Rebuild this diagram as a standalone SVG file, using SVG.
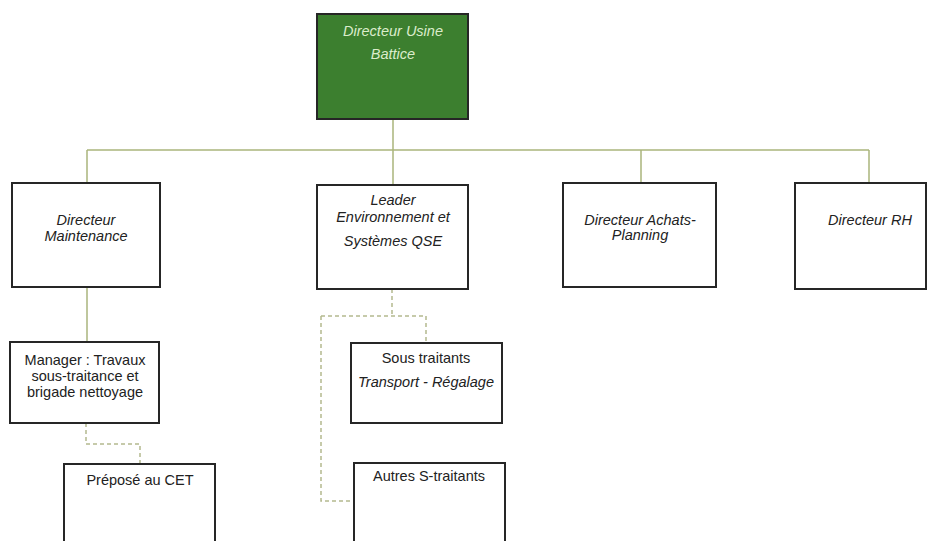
<svg xmlns="http://www.w3.org/2000/svg" width="933" height="541" viewBox="0 0 933 541">
<style>
.box{fill:#fff;stroke:#262626;stroke-width:2}
.top{fill:#3c7f2f;stroke:#262626;stroke-width:2}
.t{font-family:"Liberation Sans",Arial,sans-serif;font-size:14.5px;fill:#222;text-anchor:middle}
.i{font-style:italic}
.w{fill:#dbeccb}
.ln{fill:none;stroke:#aab57c;stroke-width:1.5}
.dl{fill:none;stroke:#b4b98e;stroke-width:1.5;stroke-dasharray:4 3}
</style>
<rect width="933" height="541" fill="#fff"/>
<g id="connectors">
<path class="ln" d="M393 119V150M87 150H869M87 150V183M393 150V185M641 150V183M869 150V183"/>
<path class="ln" d="M87 287V342"/>
<path class="dl" d="M86 423V444H140V464"/>
<path class="dl" d="M392 289V316M321 316H426V343M321 316V501H352"/>
</g>
<g id="n-directeur-usine">
<rect class="top" x="317" y="14" width="151" height="105"/>
<text class="t i w" x="393" y="36">Directeur Usine</text>
<text class="t i w" x="393" y="59">Battice</text>
</g>
<g id="n-maintenance">
<rect class="box" x="12" y="183" width="148" height="104"/>
<text class="t i" x="86" y="225">Directeur</text>
<text class="t i" x="86" y="241">Maintenance</text>
</g>
<g id="n-leader">
<rect class="box" x="317" y="185" width="151" height="104"/>
<text class="t i" x="393" y="205">Leader</text>
<text class="t i" x="393" y="222">Environnement et</text>
<text class="t i" x="393" y="246">Systèmes QSE</text>
</g>
<g id="n-achats">
<rect class="box" x="563" y="183" width="153" height="104"/>
<text class="t i" x="640" y="225">Directeur Achats-</text>
<text class="t i" x="640" y="240">Planning</text>
</g>
<g id="n-rh">
<rect class="box" x="795" y="183" width="131" height="106"/>
<text class="t i" x="870" y="225">Directeur RH</text>
</g>
<g id="n-manager">
<rect class="box" x="10" y="342" width="149" height="81"/>
<text class="t" x="85" y="365">Manager : Travaux</text>
<text class="t" x="85" y="381">sous-traitance et</text>
<text class="t" x="85" y="397">brigade nettoyage</text>
</g>
<g id="n-prepose">
<rect class="box" x="64" y="464" width="151" height="90"/>
<text class="t" x="140" y="485">Préposé au CET</text>
</g>
<g id="n-sous-traitants">
<rect class="box" x="351" y="343" width="151" height="80"/>
<text class="t" x="426" y="363">Sous traitants</text>
<text class="t i" x="426" y="387">Transport - Régalage</text>
</g>
<g id="n-autres">
<rect class="box" x="354" y="463" width="151" height="90"/>
<text class="t" x="429" y="481">Autres S-traitants</text>
</g>
</svg>
